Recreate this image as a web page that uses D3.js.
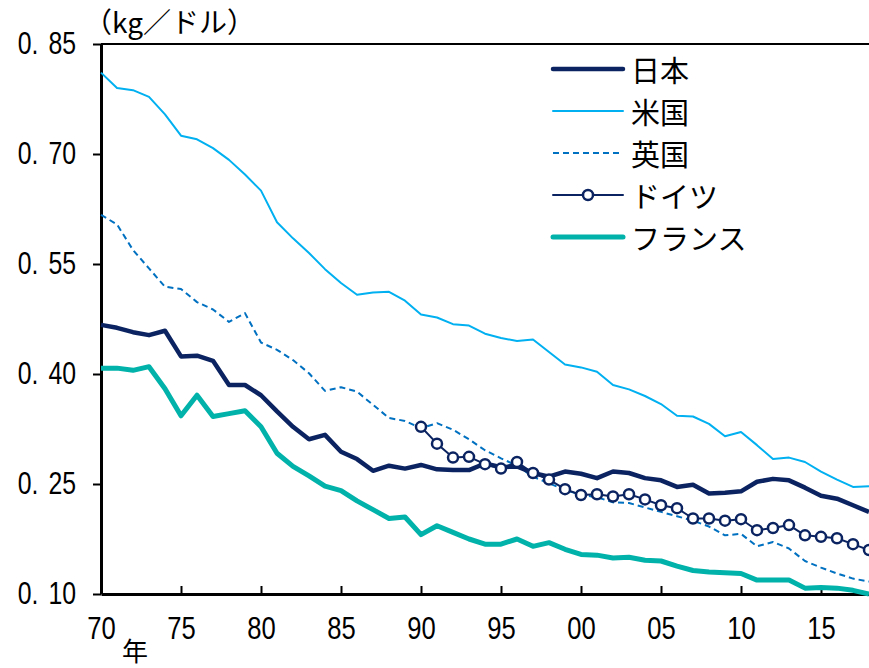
<!DOCTYPE html>
<html>
<head>
<meta charset="utf-8">
<script src="https://cdn.jsdelivr.net/npm/d3@7"></script>
<style>
  body { margin: 0; background: #fff; }
  svg { display: block; }
  .num { font-family: "Liberation Sans", Arial, sans-serif; }
  .jp { font-family: "Noto Sans CJK JP", sans-serif; }
</style>
</head>
<body>
<div id="chart"></div>
<script>
// years on the x axis
const years = [1970, 1971, 1972, 1973, 1974, 1975, 1976, 1977, 1978, 1979,
  1980, 1981, 1982, 1983, 1984, 1985, 1986, 1987, 1988, 1989,
  1990, 1991, 1992, 1993, 1994, 1995, 1996, 1997, 1998, 1999,
  2000, 2001, 2002, 2003, 2004, 2005, 2006, 2007, 2008, 2009,
  2010, 2011, 2012, 2013, 2014, 2015, 2016, 2017, 2018];

// kg per dollar
const japan = [0.467, 0.463, 0.457, 0.453, 0.459, 0.424, 0.425, 0.418, 0.385, 0.385,
  0.371, 0.349, 0.328, 0.311, 0.317, 0.294, 0.284, 0.268, 0.275, 0.271,
  0.276, 0.270, 0.269, 0.269, 0.278, 0.273, 0.274, 0.265, 0.260, 0.267,
  0.264, 0.258, 0.267, 0.265, 0.258, 0.255, 0.246, 0.249, 0.237, 0.238,
  0.240, 0.253, 0.257, 0.255, 0.245, 0.234, 0.230, 0.221, 0.212];
const usa = [0.811, 0.790, 0.787, 0.778, 0.754, 0.725, 0.720, 0.708, 0.692, 0.672,
  0.650, 0.607, 0.585, 0.565, 0.543, 0.524, 0.508, 0.511, 0.512, 0.500,
  0.481, 0.477, 0.468, 0.466, 0.455, 0.449, 0.445, 0.447, 0.430, 0.413,
  0.409, 0.403, 0.385, 0.379, 0.370, 0.359, 0.343, 0.342, 0.332, 0.315,
  0.321, 0.303, 0.284, 0.286, 0.280, 0.267, 0.256, 0.246, 0.247];
const uk = [0.617, 0.604, 0.569, 0.544, 0.519, 0.516, 0.498, 0.488, 0.471, 0.483,
  0.443, 0.433, 0.419, 0.401, 0.377, 0.382, 0.376, 0.358, 0.340, 0.336,
  0.326, 0.333, 0.324, 0.311, 0.296, 0.285, 0.275, 0.260, 0.251, 0.242,
  0.235, 0.232, 0.225, 0.224, 0.218, 0.212, 0.206, 0.200, 0.192, 0.180,
  0.182, 0.165, 0.171, 0.162, 0.145, 0.136, 0.128, 0.121, 0.117];
// Germany starts in 1990
const germany = [null, null, null, null, null, null, null, null, null, null,
  null, null, null, null, null, null, null, null, null, null,
  0.328, 0.305, 0.286, 0.287, 0.277, 0.271, 0.280, 0.265, 0.256, 0.243,
  0.235, 0.236, 0.233, 0.236, 0.229, 0.221, 0.217, 0.203, 0.203, 0.200,
  0.202, 0.187, 0.190, 0.194, 0.180, 0.178, 0.176, 0.168, 0.160];
const france = [0.408, 0.408, 0.405, 0.410, 0.380, 0.343, 0.371, 0.342, 0.346, 0.350,
  0.328, 0.292, 0.274, 0.261, 0.247, 0.241, 0.227, 0.215, 0.203, 0.205,
  0.181, 0.193, 0.184, 0.175, 0.168, 0.168, 0.175, 0.165, 0.170, 0.161,
  0.154, 0.153, 0.149, 0.150, 0.146, 0.145, 0.138, 0.132, 0.130, 0.129,
  0.128, 0.119, 0.119, 0.119, 0.108, 0.109, 0.108, 0.105, 0.100];

const yTicks = [0.10, 0.25, 0.40, 0.55, 0.70, 0.85];
const xTicks = [1970, 1975, 1980, 1985, 1990, 1995, 2000, 2005, 2010, 2015];

const W = 869, H = 668;
const plotLeft = 101, plotRight = 869, plotTop = 44, plotBottom = 594;
const squeeze = 0.8; // narrow look of the tick digits

const svg = d3.select("#chart").append("svg")
  .attr("width", W).attr("height", H);

const x = d3.scaleLinear().domain([1970, 2018]).range([plotLeft, plotRight]);
const y = d3.scaleLinear().domain([0.10, 0.85]).range([plotBottom, plotTop]);

// top frame line
svg.append("line")
  .attr("x1", plotLeft).attr("x2", plotRight)
  .attr("y1", plotTop).attr("y2", plotTop)
  .attr("stroke", "#000").attr("stroke-width", 2);

// y axis
const yAxis = svg.append("g")
  .attr("transform", `translate(${plotLeft},0)`)
  .call(d3.axisLeft(y).tickValues(yTicks).tickSize(8).tickSizeOuter(0)
    .tickFormat(d => d.toFixed(2).replace(".", ". ")));
yAxis.select(".domain").attr("stroke-width", 3);
yAxis.selectAll(".tick line").attr("stroke-width", 2);
yAxis.selectAll("text")
  .attr("class", "num").attr("font-size", 31).attr("fill", "#000")
  .attr("word-spacing", 4)
  .attr("x", -25 / squeeze)
  .attr("transform", `scale(${squeeze},1)`);

// x axis
const xAxis = svg.append("g")
  .attr("transform", `translate(0,${plotBottom})`)
  .call(d3.axisBottom(x).tickValues(xTicks).tickSize(-8).tickSizeOuter(0).tickPadding(22)
    .tickFormat(d => String(d % 100).padStart(2, "0")));
xAxis.select(".domain").attr("stroke-width", 3);
xAxis.selectAll(".tick line").attr("stroke-width", 2);
xAxis.selectAll("text")
  .attr("class", "num").attr("font-size", 32).attr("fill", "#000")
  .attr("transform", `scale(${squeeze},1)`);

// unit label and year mark
svg.append("text").attr("class", "jp")
  .attr("x", 84).attr("y", 33).attr("font-size", 28)
  .text("（kg／ドル）");
svg.append("text").attr("class", "jp")
  .attr("x", 135).attr("y", 661).attr("text-anchor", "middle").attr("font-size", 26)
  .text("年");

const series = [
  { name: "日本", values: japan, color: "#0b2461", width: 4.5 },
  { name: "米国", values: usa, color: "#00b0f0", width: 2 },
  { name: "英国", values: uk, color: "#0070c0", width: 2, dash: "6,4" },
  { name: "ドイツ", values: germany, color: "#0b2461", width: 2, marker: true },
  { name: "フランス", values: france, color: "#00b2aa", width: 5 }
];

const line = d3.line()
  .defined(d => d[1] != null)
  .x(d => x(d[0]))
  .y(d => y(d[1]));

// drawing order so the markers sit on top
const drawOrder = [2, 1, 4, 0, 3];
drawOrder.forEach(i => {
  const s = series[i];
  const pts = years.map((yr, j) => [yr, s.values[j]]);
  svg.append("path")
    .datum(pts)
    .attr("fill", "none")
    .attr("stroke", s.color)
    .attr("stroke-width", s.width)
    .attr("stroke-dasharray", s.dash || null)
    .attr("stroke-linejoin", "round")
    .attr("d", line);
  if (s.marker) {
    svg.append("g").selectAll("circle")
      .data(pts.filter(d => d[1] != null))
      .join("circle")
      .attr("cx", d => x(d[0]))
      .attr("cy", d => y(d[1]))
      .attr("r", 5)
      .attr("fill", "#fff")
      .attr("stroke", s.color)
      .attr("stroke-width", 2.5);
  }
});

// legend
const legend = svg.append("g");
series.forEach((s, i) => {
  const ly = 69 + i * 42;
  legend.append("line")
    .attr("x1", 553).attr("x2", 623)
    .attr("y1", ly).attr("y2", ly)
    .attr("stroke", s.color)
    .attr("stroke-width", s.width)
    .attr("stroke-linecap", s.dash ? "butt" : "round")
    .attr("stroke-dasharray", s.dash || null);
  if (s.marker) {
    legend.append("circle")
      .attr("cx", 588).attr("cy", ly).attr("r", 5)
      .attr("fill", "#fff").attr("stroke", s.color).attr("stroke-width", 2.5);
  }
  legend.append("text").attr("class", "jp")
    .attr("x", 631).attr("y", ly)
    .attr("dominant-baseline", "central")
    .attr("font-size", 29)
    .text(s.name);
});
</script>
</body>
</html>
